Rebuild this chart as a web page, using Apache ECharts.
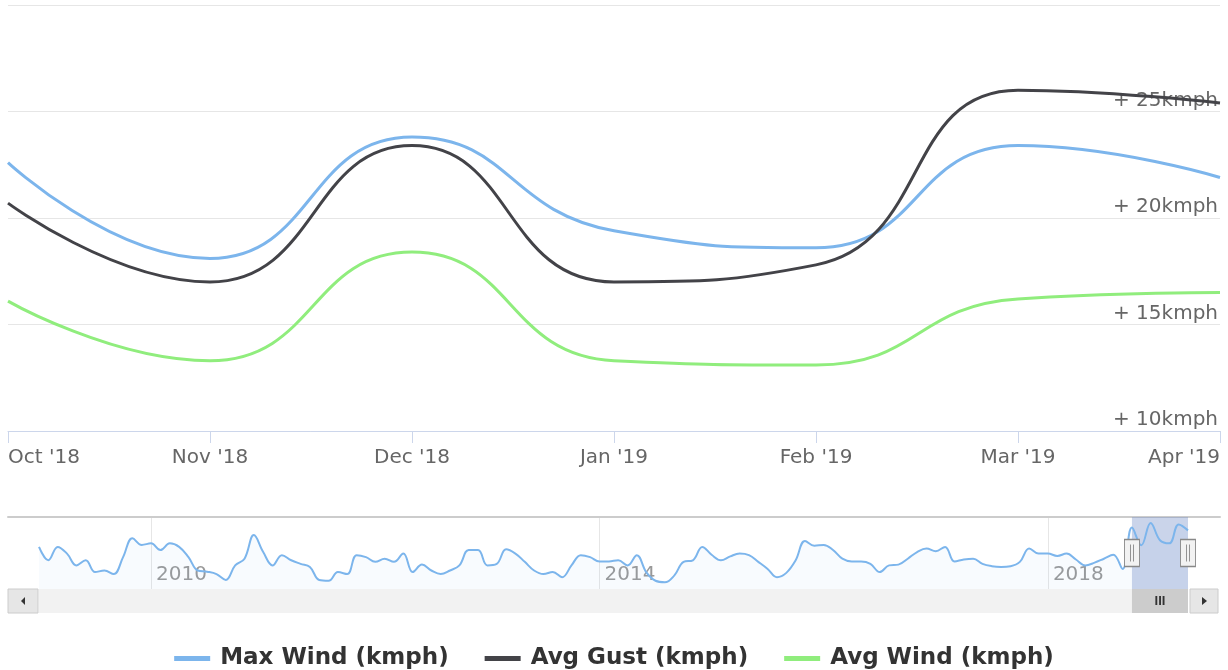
<!DOCTYPE html>
<html>
<head>
<meta charset="utf-8">
<title>Wind</title>
<script src="https://cdn.jsdelivr.net/npm/echarts/dist/echarts.min.js"></script>
<style>
  html, body { margin: 0; padding: 0; background: #fff; }
  #chart { width: 1228px; height: 670px; }
</style>
</head>
<body>
<div id="chart"></div>
<script>
// visible range (main chart)
const months = ["Oct '18", "Nov '18", "Dec '18", "Jan '19", "Feb '19", "Mar '19", "Apr '19"]
const maxWind = [22.6, 18.1, 23.8, 19.4, 18.6, 23.4, 21.9]
const avgGust = [20.7, 17.0, 23.4, 17.0, 17.8, 26.0, 25.4]
const avgWind = [16.1, 13.3, 18.4, 13.3, 13.1, 16.2, 16.5]
const yTicks = [10, 15, 20, 25, 30]

// navigator history of max wind, Jan 2009 .. Sep 2018 (monthly)
const history2009 = [17.7, 14.3, 17.7, 16.0, 13.0, 14.3, 11.3, 11.7, 10.8, 15.1, 19.9, 18.2]
const history2010 = [18.6, 16.9, 18.6, 17.7, 15.1, 11.7, 11.4, 10.8, 9.3, 13.0, 14.7, 20.7]
const history2011 = [16.4, 13.0, 15.6, 14.3, 13.4, 12.6, 9.3, 9.1, 11.3, 10.8, 15.6, 15.1]
const history2012 = [13.9, 14.7, 13.9, 16.0, 11.3, 13.2, 11.7, 10.8, 11.7, 13.0, 16.9, 16.9]
const history2013 = [13.0, 13.4, 17.1, 16.0, 13.9, 11.7, 10.8, 11.3, 10.0, 13.0, 15.6, 15.1]
const history2014 = [14.0, 14.0, 14.3, 13.0, 15.6, 11.3, 9.1, 8.7, 10.4, 13.9, 14.3, 17.7]
const history2015 = [15.7, 14.3, 15.3, 16.0, 15.6, 13.9, 12.1, 10.0, 11.1, 14.3, 19.2, 18.0]
const history2016 = [18.2, 16.9, 14.7, 14.0, 14.0, 13.4, 11.3, 13.0, 13.2, 14.7, 16.4, 17.3]
const history2017 = [16.6, 17.7, 14.0, 14.5, 14.7, 13.4, 12.8, 12.6, 12.8, 13.9, 17.3, 16.0]
const history2018 = [16.0, 15.4, 16.0, 14.5, 13.0, 13.7, 14.7, 15.7, 12.1]
const navYears = ['2010', '2014', '2018']

const navValues = [].concat(
  history2009, history2010, history2011, history2012, history2013,
  history2014, history2015, history2016, history2017, history2018, maxWind
)
// month keys for the navigator axis, starting Jan 2009
const navMonths = navValues.map((v, i) => {
  const y = 2009 + Math.floor(i / 12)
  const m = (i % 12) + 1
  return y + '-' + (m < 10 ? '0' + m : m)
})
const selStart = navMonths[navMonths.length - months.length]
const selEnd = navMonths[navMonths.length - 1]
const navMin = 7
const navMax = 25.3
const isYearMark = (i) => navYears.some((y) => navMonths[i] === y + '-01')

const FONT = 'DejaVu Sans'
const lineColors = ['#7cb5ec', '#434348', '#90ed7d']

const myChart = echarts.init(document.getElementById('chart'))

const option = {
  animation: false,
  color: lineColors,
  legend: {
    left: 'center',
    top: 642,
    icon: 'rect',
    itemWidth: 36,
    itemHeight: 5,
    itemGap: 36,
    textStyle: {
      color: '#333',
      fontSize: 23,
      fontWeight: 'bold',
      fontFamily: FONT,
      padding: [0, 0, 0, 5],
    },
    data: ['Max Wind (kmph)', 'Avg Gust (kmph)', 'Avg Wind (kmph)'],
  },
  grid: [
    { left: 8, right: 8, top: 5, bottom: 239 },
    { left: 39, right: 40, top: 517, height: 72 },
    { left: 8, right: 8, top: 517, height: 72 },
    { left: 39, right: 40, top: 589, height: 24, show: true, backgroundColor: '#f2f2f2', borderWidth: 0 },
  ],
  xAxis: [
    {
      gridIndex: 0,
      type: 'category',
      data: months,
      boundaryGap: false,
      axisLine: { lineStyle: { color: '#ccd6eb' } },
      axisTick: { length: 12, lineStyle: { color: '#ccd6eb' } },
      axisLabel: {
        color: '#666',
        fontSize: 20,
        fontFamily: FONT,
        margin: 17,
        alignMinLabel: 'left',
        alignMaxLabel: 'right',
      },
    },
    {
      gridIndex: 1,
      type: 'category',
      data: navMonths,
      boundaryGap: false,
      axisLine: { show: false },
      axisTick: { show: false },
      axisLabel: {
        inside: true,
        interval: (i) => isYearMark(i),
        formatter: (v) => v.slice(0, 4),
        align: 'left',
        padding: [0, 0, 0, 5],
        margin: 4,
        color: '#999',
        fontSize: 20,
        fontFamily: FONT,
      },
      splitLine: {
        show: true,
        interval: (i) => isYearMark(i),
        lineStyle: { color: '#e6e6e6' },
      },
    },
    {
      gridIndex: 2,
      type: 'value',
      position: 'top',
      min: 0,
      max: 1,
      axisLine: { show: true, onZero: false, lineStyle: { color: '#cccccc', width: 2 } },
      axisTick: { show: false },
      axisLabel: { show: false },
      splitLine: { show: false },
    },
    {
      gridIndex: 3,
      type: 'category',
      data: navMonths,
      boundaryGap: false,
      show: false,
    },
  ],
  yAxis: [
    {
      gridIndex: 0,
      type: 'value',
      position: 'right',
      min: yTicks[0],
      max: yTicks[yTicks.length - 1],
      interval: 5,
      axisLine: { show: false },
      axisTick: { show: false },
      splitLine: { lineStyle: { color: '#e6e6e6' } },
      axisLabel: {
        inside: true,
        showMaxLabel: false,
        margin: 2,
        verticalAlign: 'bottom',
        padding: [0, 0, 1, 0],
        color: '#666',
        fontSize: 20,
        fontFamily: FONT,
        formatter: '+ {value}kmph',
      },
    },
    { gridIndex: 1, type: 'value', min: navMin, max: navMax, show: false },
    { gridIndex: 2, type: 'value', min: 0, max: 1, show: false },
    { gridIndex: 3, type: 'value', min: 0, max: 1, show: false },
  ],
  series: [
    {
      name: 'Max Wind (kmph)',
      type: 'line',
      data: maxWind,
      smooth: 0.5,
      showSymbol: false,
      lineStyle: { width: 3 },
    },
    {
      name: 'Avg Gust (kmph)',
      type: 'line',
      data: avgGust,
      smooth: 0.5,
      showSymbol: false,
      lineStyle: { width: 3 },
    },
    {
      name: 'Avg Wind (kmph)',
      type: 'line',
      data: avgWind,
      smooth: 0.5,
      showSymbol: false,
      lineStyle: { width: 3 },
    },
    {
      // navigator
      type: 'line',
      xAxisIndex: 1,
      yAxisIndex: 1,
      data: navValues,
      smooth: 0.4,
      showSymbol: false,
      silent: true,
      lineStyle: { width: 2, color: '#7cb5ec' },
      areaStyle: { origin: 'start', color: 'rgba(124,181,236,0.07)' },
      markArea: {
        silent: true,
        itemStyle: { color: 'rgba(102,133,194,0.35)' },
        data: [[{ xAxis: selStart }, { xAxis: selEnd }]],
      },
      markPoint: {
        silent: true,
        symbol: 'path://M0,0H15V27H0Z M6,5V22 M9,5V22',
        symbolSize: [15, 27],
        itemStyle: { color: '#f2f2f2', borderColor: '#888', borderWidth: 1.2 },
        label: { show: false },
        data: [
          { coord: [selStart, (navMin + navMax) / 2] },
          { coord: [selEnd, (navMin + navMax) / 2] },
        ],
      },
    },
    {
      // scrollbar thumb
      type: 'line',
      xAxisIndex: 3,
      yAxisIndex: 3,
      data: [],
      silent: true,
      markArea: {
        silent: true,
        itemStyle: { color: '#cccccc', borderColor: '#cccccc' },
        label: { show: true, position: 'inside', formatter: 'III', color: '#333', fontSize: 13, fontWeight: 'bold' },
        data: [[{ xAxis: selStart }, { xAxis: selEnd }]],
      },
    },
  ],
  graphic: [
    {
      type: 'rect',
      shape: { x: 8, y: 589, width: 30, height: 24 },
      style: { fill: '#e6e6e6', stroke: '#cccccc' },
    },
    {
      type: 'polygon',
      shape: { points: [[25, 597], [25, 605], [21, 601]] },
      style: { fill: '#333' },
    },
    {
      type: 'rect',
      shape: { x: 1190, y: 589, width: 28, height: 24 },
      style: { fill: '#e6e6e6', stroke: '#cccccc' },
    },
    {
      type: 'polygon',
      shape: { points: [[1202, 597], [1202, 605], [1207, 601]] },
      style: { fill: '#333' },
    },
  ],
}

myChart.setOption(option)
</script>
</body>
</html>
